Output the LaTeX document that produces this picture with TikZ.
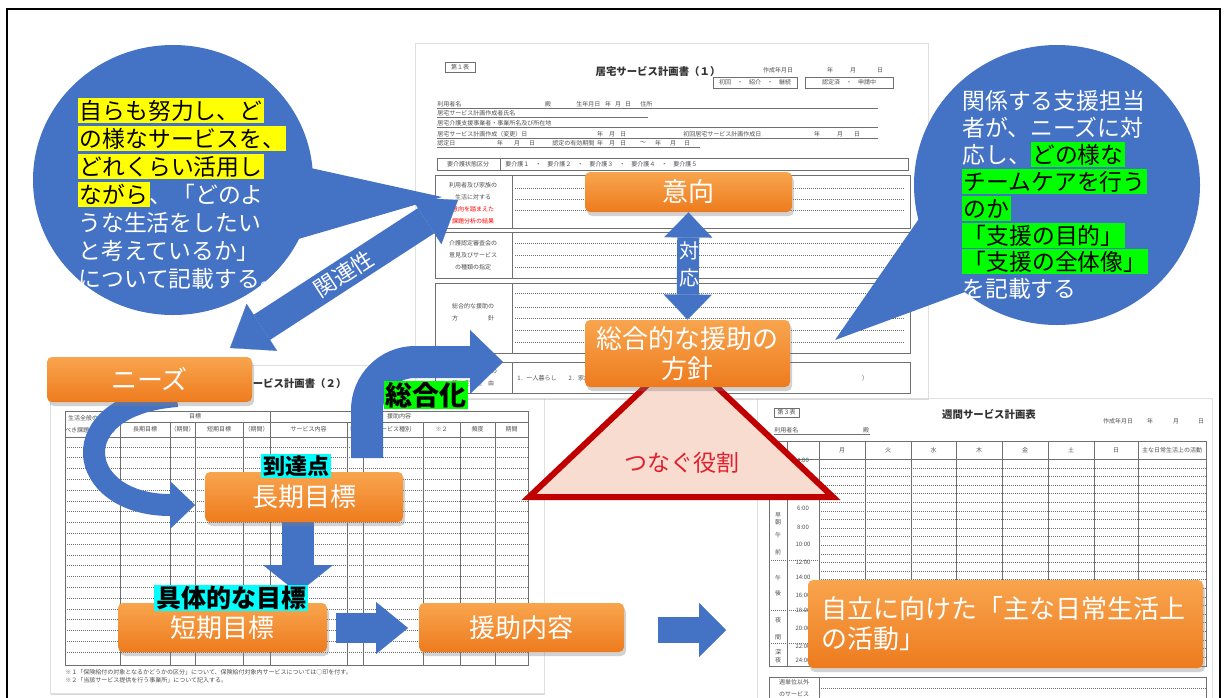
\documentclass[tikz,border=0pt]{standalone}
\usepackage{fontspec}
\setmainfont{Noto Sans CJK JP}
\usetikzlibrary{arrows.meta,shadows}
\definecolor{blu}{HTML}{4472C4}
\definecolor{orA}{HTML}{F8A54E}
\definecolor{orB}{HTML}{EE7B1E}
\definecolor{trifill}{HTML}{F8DCD0}
\definecolor{triline}{HTML}{C00000}
\definecolor{redtxt}{HTML}{E0202E}
\definecolor{hlY}{HTML}{FFFF00}
\definecolor{hlG}{HTML}{00FF00}
\definecolor{hlC}{HTML}{00FFFF}
\definecolor{ftc}{HTML}{505050}
\definecolor{flc}{HTML}{707070}
\newcommand{\hly}[1]{{\setlength{\fboxsep}{0.7pt}\colorbox{hlY}{\rule[-0.1em]{0pt}{0.95em}\textcolor{black}{#1}}}}
\newcommand{\hlg}[1]{{\setlength{\fboxsep}{0.7pt}\colorbox{hlG}{\rule[-0.1em]{0pt}{0.95em}\textcolor{black}{#1}}}}
\tikzset{
 obox/.style={rounded corners=2.5pt, top color=orA, bottom color=orB, text=white, align=center, inner sep=0pt, font=\fontsize{13}{15}\selectfont, drop shadow={shadow xshift=1pt,shadow yshift=-2pt,opacity=0.35}},
 pagebox/.style={fill=white, draw=black!12, line width=0.3pt, inner sep=0pt, anchor=north west, drop shadow={shadow xshift=0.5pt,shadow yshift=-1pt,opacity=0.3}},
 ft/.style={font=\fontsize{3}{3.6}\selectfont, text=ftc, inner sep=0pt},
 ftc2/.style={font=\fontsize{3}{6}\selectfont, text=ftc, inner sep=0pt, align=center},
 fttl/.style={font=\fontsize{5.2}{6}\selectfont\bfseries, text=black!80, inner sep=0pt},
 fl/.style={draw=flc, line width=0.35pt},
 fd/.style={draw=flc, line width=0.35pt, dash pattern=on 0.5pt off 0.5pt},
 bubblefill/.style={fill=blu},
 btxt/.style={anchor=base west, inner sep=0pt, text=white, font=\fontsize{11.4}{13}\selectfont},
 blk/.style={draw=blu, line width=#1},
 hlab/.style={inner sep=0.8pt, text=black, font=\fontsize{#1}{#1}\selectfont\bfseries},
}
\begin{document}
\begin{tikzpicture}[x=0.5pt,y=-0.5pt]
\useasboundingbox (0,0) rectangle (1226,697);
\fill[white] (0,0) rectangle (1226,697);

% ---------- bottom-left form ----------
\node[pagebox, minimum width=247pt, minimum height=164pt] (pg2) at (50,365) {};
\node[fttl] (p2t) at (284,383) {居宅サービス計画書（２）};
\node[ft, anchor=west] (p2u) at (70,397) {利用者名};
\draw[fl] (70,400) -- (125,400);
\draw[fl] (65,411) rectangle (528,665);
\draw[fl] (120,422) -- (528,422);
\draw[fl] (65,437) -- (528,437);
\foreach \xx in {120,270} \draw[fl] (\xx,411) -- (\xx,665);
\foreach \xx in {170,195,243,347,363,423,460,495} \draw[fl] (\xx,422) -- (\xx,665);
\foreach \k in {0,...,19} \draw[fd] (65,{447+10.8*\k}) -- (528,{447+10.8*\k});
\node[ftc2] (p2h1) at (92,424) {生活全般の解決す\\べき課題（ニーズ）};
\node[ft] (p2h2) at (195,416.5) {目標};
\node[ft] (p2h3) at (399,416.5) {援助内容};
\foreach \xx/\tt [count=\i] in {145/長期目標,182.5/（期間）,219/短期目標,256.5/（期間）,308.5/サービス内容,355/※１,393/サービス種別,441.5/※２,477.5/頻度,511.5/期間}
  \node[ft] (p2c\i) at (\xx,429.5) {\tt};
\node[ft, anchor=west] (p2n1) at (65,672) {※１「保険給付の対象となるかどうかの区分」について、保険給付対象内サービスについては○印を付す。};
\node[ft, anchor=west] (p2n2) at (65,680) {※２「当該サービス提供を行う事業所」について記入する。};

% ---------- bottom-right form ----------
\node[pagebox, minimum width=227.5pt, minimum height=156pt] (pg3) at (757,398) {};
\draw[fl] (774,408) rectangle (799,417);
\node[ft] (p3a) at (786.5,412.5) {第３表};
\node[fttl] (p3t) at (989,414) {週間サービス計画表};
\node[ft] (p3c) at (1118,421) {作成年月日};
\foreach \xx/\tt [count=\i] in {1150/年,1176/月,1201/日} \node[ft] (p3d\i) at (\xx,421) {\tt};
\node[ft, anchor=west] (p3u) at (774,430) {利用者名};
\node[ft] (p3v) at (866,430) {殿};
\draw[fl] (774,434) -- (870,434);
\draw[fl] (769,441) rectangle (1206,666);
\draw[fl] (769,459) -- (1206,459);
\foreach \xx in {787,819,865,911,956,1002,1048,1094,1138} \draw[fl] (\xx,441) -- (\xx,666);
\foreach \xx/\tt [count=\i] in {842/月,888/火,933.5/水,979/木,1025/金,1071/土,1116/日,1172/主な日常生活上の活動}
  \node[ft] (p3h\i) at (\xx,450) {\tt};
\foreach \k in {0,...,22} \draw[fd] (819,{468+8.6*\k}) -- (1206,{468+8.6*\k});
\foreach \yy/\tt [count=\i] in {460/4:00,508/6:00,527/8:00,544/10:00,562/12:00,577/14:00,595/16:00,610/18:00,628/20:00,646/22:00,660/24:00}
  \node[ft] (p3t\i) at (803,\yy) {\tt};
\foreach \yy/\tt [count=\i] in {515/早,522/朝,535/午,552/前,578/午,593/後,620/夜,637/間,652/深,660/夜}
  \node[ft] (p3k\i) at (778,\yy) {\tt};
\foreach \yy in {493,560,610,643} \draw[fd] (769,\yy) -- (819,\yy);
\draw[fl] (769,677) rectangle (1206,712);
\draw[fl] (819,677) -- (819,712);
\node[ftc2] (p3w) at (794,688) {週単位以外\\のサービス};
\draw[fd] (819,688) -- (1206,688);

% ---------- top form ----------
\node[pagebox, minimum width=256.5pt, minimum height=177.5pt] (pg1) at (415,43) {};
\draw[fl] (445,62) rectangle (475,72);
\node[ft] (p1a) at (460,67) {第１表};
\node[fttl] (p1t) at (658,71) {居宅サービス計画書（１）};
\node[ft] (p1c) at (778,70) {作成年月日};
\foreach \xx/\tt [count=\i] in {830/年,853/月,880/日} \node[ft] (p1d\i) at (\xx,70) {\tt};
\draw[fl] (713,77) rectangle (797,88);
\node[ft] (p1e) at (755,82.5) {初回　・　紹介　・　継続};
\draw[fl] (805,77) rectangle (893,88);
\node[ft] (p1f) at (849,82.5) {認定済　・　申請中};
% header lines
\node[ft, anchor=west] (r1a) at (437,104) {利用者名};
\node[ft] (r1b) at (548,104) {殿};
\node[ft, anchor=west] (r1c) at (576,104) {生年月日};
\foreach \xx/\tt [count=\i] in {608/年,618/月,628/日} \node[ft] (r1d\i) at (\xx,104) {\tt};
\node[ft, anchor=west] (r1g) at (640,104) {住所};
\draw[fl] (437,108) -- (878,108);
\node[ft, anchor=west] (r2a) at (437,113) {居宅サービス計画作成者氏名};
\draw[fl] (437,117) -- (648,117);
\node[ft, anchor=west] (r3a) at (437,123) {居宅介護支援事業者・事業所名及び所在地};
\draw[fl] (437,127) -- (878,127);
\node[ft, anchor=west] (r4a) at (437,134) {居宅サービス計画作成（変更）日};
\foreach \xx/\tt [count=\i] in {600/年,612/月,623/日,817/年,840/月,857/日} \node[ft] (r4d\i) at (\xx,134) {\tt};
\node[ft, anchor=west] (r4b) at (683,134) {初回居宅サービス計画作成日};
\draw[fl] (437,138) -- (878,138);
\node[ft, anchor=west] (r5a) at (437,143) {認定日};
\foreach \xx/\tt [count=\i] in {500/年,517/月,532/日,600/年,612/月,623/日,643/～,658/年,673/月,687/日} \node[ft] (r5d\i) at (\xx,143) {\tt};
\node[ft, anchor=west] (r5b) at (552,143) {認定の有効期間};
\draw[fl] (437,147) -- (700,147);
% care level row
\draw[fl] (437,158) rectangle (908,170);
\draw[fl] (500,158) -- (500,170);
\node[ft] (r6a) at (468,164) {要介護状態区分};
\node[ft, anchor=west] (r6b) at (505,164) {要介護１　・　要介護２　・　要介護３　・　要介護４　・　要介護５};
% table rows
\foreach \ya/\yb in {175/228,232/278,283/353,362/393} {
  \draw[fl] (435,\ya) rectangle (910,\yb);
  \draw[fl] (512,\ya) -- (512,\yb);
}
\foreach \yy in {188,199,210,243,255,267,293,307,318,330,342} \draw[fd] (515,\yy) -- (905,\yy);
\node[ftc2] (t1) at (473,203) {利用者及び家族の\\生活に対する\\\textcolor{red}{意向を踏まえた}\\\textcolor{red}{課題分析の結果}};
\node[ftc2] (t2) at (473,255) {介護認定審査会の\\意見及びサービス\\の種類の指定};
\node[ftc2] (t3) at (473,312) {総合的な援助の\\方　　　　　針};
\node[ftc2] (t4) at (473,377) {生活援助中心型の\\算　定　理　由};
\node[ft, anchor=west] (t5) at (517,378) {1．一人暮らし　　2．家族等が障害、疾病等　　3．その他（};
\node[ft] (t6) at (865,378) {）};

% ---------- bubbles ----------
\fill[bubblefill] (173,180) ellipse [x radius=70pt, y radius=67.5pt];
\fill[bubblefill] (288,163) -- (442,197) -- (295,240) -- cycle;
\fill[bubblefill] (1057,185) ellipse [x radius=71.5pt, y radius=70pt];
\fill[bubblefill] (925,210) -- (835,340) -- (965,292) -- cycle;

\node[btxt] (bl1) at (78,119) {\hly{自らも努力し、ど}};
\node[btxt] (bl2) at (78,147) {\hly{の様なサービスを、}};
\node[btxt] (bl3) at (78,175) {\hly{どれくらい活用し}};
\node[btxt] (bl4) at (78,203) {\hly{ながら}、「どのよ};
\node[btxt] (bl5) at (78,231) {うな生活をしたい};
\node[btxt] (bl6) at (78,259) {と考えているか」};
\node[btxt] (bl7) at (78,287) {について記載する。};

\node[btxt] (br1) at (962,109) {関係する支援担当};
\node[btxt] (br2) at (962,136) {者が、ニーズに対};
\node[btxt] (br3) at (962,163) {応し、\hlg{どの様な}};
\node[btxt] (br4) at (962,190) {\hlg{チームケアを行う}};
\node[btxt] (br5) at (962,217) {\hlg{のか}};
\node[btxt] (br6) at (962,244) {\hlg{「支援の目的」}};
\node[btxt] (br7) at (962,270) {\hlg{「支援の全体像」}};
\node[btxt] (br8) at (962,297) {を記載する};

% ---------- triangle ----------
\draw[line width=3pt, draw=triline, fill=trifill, line join=miter] (681,353) -- (529,497) -- (833,497) -- cycle;
\node[text=redtxt, font=\fontsize{11.5}{12}\selectfont, inner sep=0pt] (tsunagu) at (682,463) {つなぐ役割};

% ---------- coordinates for arrows ----------
\coordinate (relA) at (230,348);
\coordinate (relB) at (458,200);
\coordinate (rib0) at (177,396);
\coordinate (rib1) at (195,505);
\coordinate (bent0) at (367,458);
\coordinate (bent1) at (503,362);
\coordinate (dA) at (298,520);
\coordinate (dB) at (298,593);
\coordinate (r1a) at (336,628);
\coordinate (r1b) at (408,628);
\coordinate (r2a) at (658,630);
\coordinate (r2b) at (726,630);

% ---------- arrows ----------
\draw[blk=15pt, {Triangle[width=28pt,length=19pt,line width=0.1pt]}-{Triangle[width=28pt,length=19pt,line width=0.1pt]}] (relA) -- (relB)
  node[midway, sloped, text=white, inner sep=0pt, font=\fontsize{11}{12}\selectfont] (kanren) {関連性};
\draw[blk=11pt, -{Triangle[width=24pt,length=12.5pt,line width=0.1pt]}] (rib0) .. controls (60,405) and (75,505) .. (rib1);
\draw[blk=16pt, -{Triangle[width=32pt,length=16.5pt,line width=0.1pt]}] (bent0) -- (367,410) .. controls (367,383.5) and (388.5,362) .. (415,362) -- (bent1);
\draw[blk=16pt, -{Triangle[width=35pt,length=14pt,line width=0.1pt]}] (dA) -- (dB);
\draw[blk=15pt, -{Triangle[width=26pt,length=16pt,line width=0.1pt]}] (r1a) -- (r1b);
\draw[blk=13pt, -{Triangle[width=27pt,length=13.5pt,line width=0.1pt]}] (r2a) -- (r2b);

% ---------- orange boxes ----------
\node[obox, minimum width=103.5pt, minimum height=20pt] (ikou) at (688.5,192) {意向};
\node[obox, minimum width=102.5pt, minimum height=33.5pt] (sougou) at (687.5,353.5) {総合的な援助の\\方針};
\node[obox, minimum width=102.5pt, minimum height=22.5pt] (needs) at (149.5,379.5) {ニーズ};
\node[obox, minimum width=99pt, minimum height=25pt] (chouki) at (304,497) {長期目標};
\node[obox, minimum width=104.5pt, minimum height=24.5pt] (tanki) at (222.5,627.5) {短期目標};
\node[obox, minimum width=102.5pt, minimum height=24.5pt] (enjo) at (521.5,627.5) {援助内容};
\node[obox, minimum width=197.5pt, minimum height=44pt, text width=184pt, align=left] (jiritsu) at (1005.5,624) {自立に向けた「主な日常生活上\\の活動」};

% vertical double arrow between ikou and sougou
\draw[blk=11pt, {Triangle[width=24pt,length=12.5pt,line width=0.1pt]}-{Triangle[width=24pt,length=12.5pt,line width=0.1pt]}] (ikou.south) -- (sougou.north);
\node[text=white, inner sep=0pt, align=center, font=\fontsize{10}{13.5}\selectfont] (taiou) at (689,264) {対\\応};

% ---------- highlighted labels ----------
\node[hlab=11, fill=hlC] (toutatsu) at (296,466) {到達点};
\node[hlab=12.5, fill=hlC] (gutai) at (231,598) {具体的な目標};
\node[hlab=13.5, fill=hlG] (sougouka) at (426,395) {総合化};

% ---------- frame ----------
\draw[black, line width=0.6pt] (7,9) rectangle (1220,705);
\end{tikzpicture}
\end{document}
